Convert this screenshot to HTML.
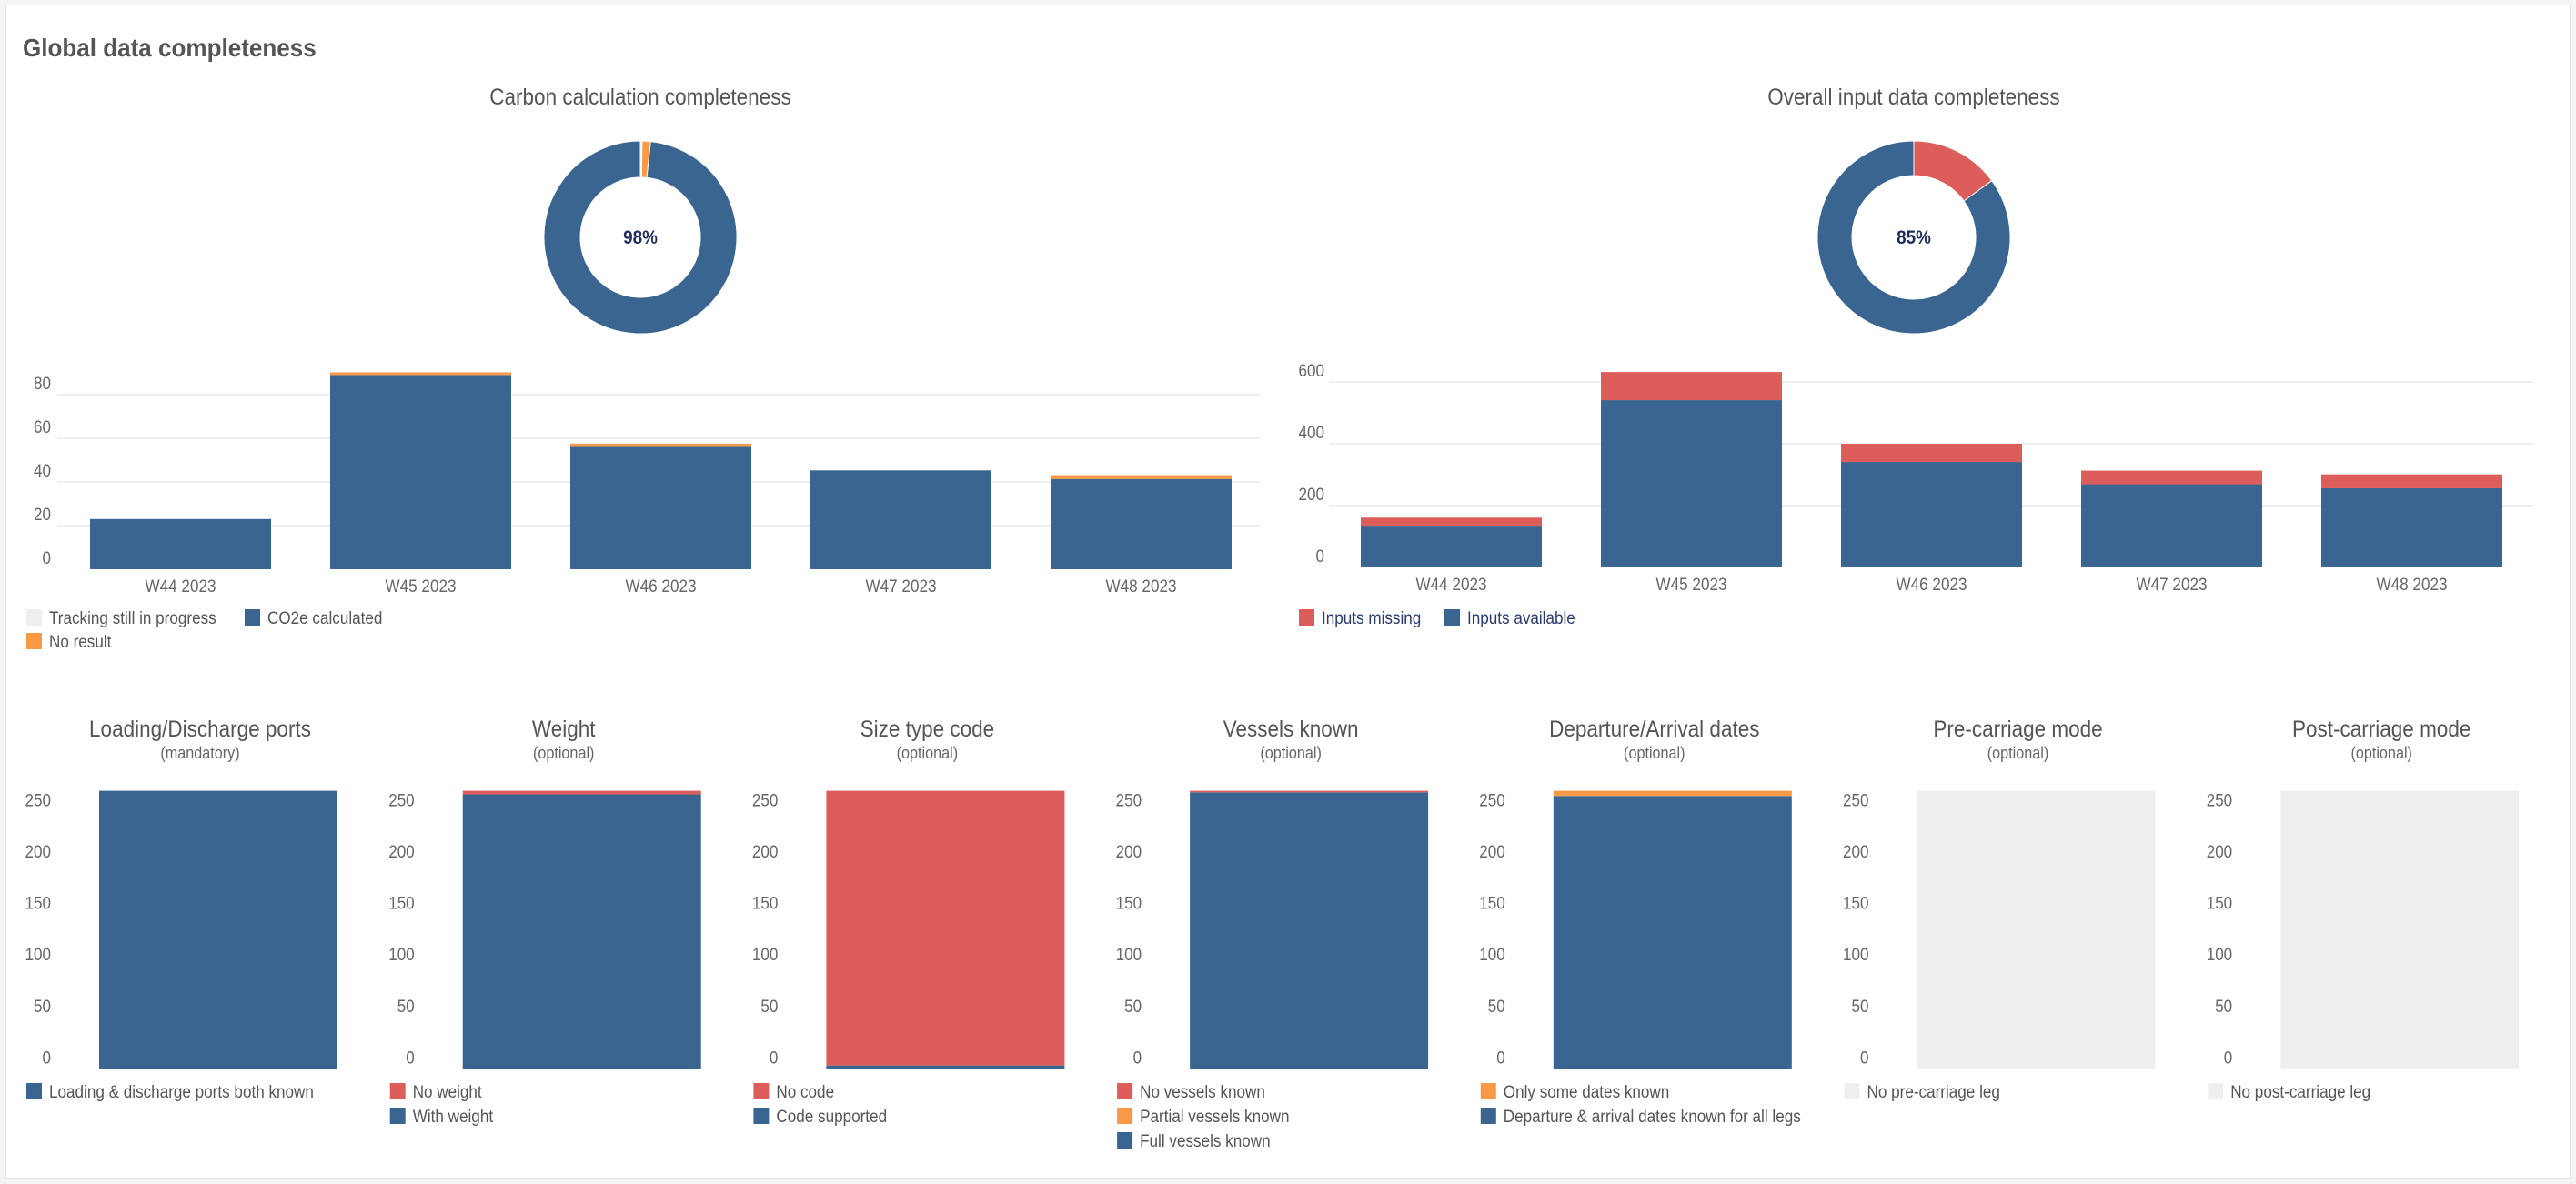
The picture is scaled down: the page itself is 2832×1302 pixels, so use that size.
<!DOCTYPE html>
<html><head><meta charset="utf-8">
<style>
html,body{margin:0;padding:0;background:#f4f3f6;}
body{width:2832px;height:1302px;overflow:hidden;position:relative;}
#panel{position:absolute;left:6px;top:5px;width:2818px;height:1289px;background:#fff;border:1px solid #e6e4e8;}
svg{position:absolute;left:0;top:0;}
text{font-family:"Liberation Sans Narrow","Liberation Sans",sans-serif;}
</style></head>
<body>
<div id="panel"></div>
<svg id="chart" width="2832" height="1302">
<text id="main-title" x="25" y="62" font-size="28" font-weight="bold" fill="#555">Global data completeness</text>
</svg>
<script>
// ---- Top-left data ----
const weeks = ["W44 2023","W45 2023","W46 2023","W47 2023","W48 2023"];
const co2Calculated = [23, 89, 56.5, 45.3, 41.3];
const co2NoResult = [0, 1.2, 1, 0, 1.8];
const co2Tracking = [0, 0.2, 0.5, 0, 0];
const carbonTicks = [0, 20, 40, 60, 80];
const carbonDonut = [0.3, 1.4, 98.3];
const carbonPct = "98%";
// ---- Top-right data ----
const inputsAvailable = [135, 541, 341, 269, 256];
const inputsMissing = [26, 91, 59, 44, 45];
const inputTicks = [0, 200, 400, 600];
const inputDonut = [15, 85];
const inputPct = "85%";
// ---- Bottom data ----
const panelTitles = ["Loading/Discharge ports","Weight","Size type code","Vessels known","Departure/Arrival dates","Pre-carriage mode","Post-carriage mode"];
const panelSubs = ["(mandatory)","(optional)","(optional)","(optional)","(optional)","(optional)","(optional)"];
const bottomTicks = [0, 50, 100, 150, 200, 250];
const panelBlue = [270, 266.5, 3.4, 268.5, 265, 0, 0];
const panelOrange = [0, 0, 0, 0, 5, 0, 0];
const panelRed = [0, 3.5, 266.6, 1.5, 0, 0, 0];
const panelGrey = [0, 0, 0, 0, 0, 270, 270];
const panelLegends = [
  [["#3a6591","Loading & discharge ports both known"]],
  [["#dd5d5a","No weight"],["#3a6591","With weight"]],
  [["#dd5d5a","No code"],["#3a6591","Code supported"]],
  [["#dd5d5a","No vessels known"],["#f89a45","Partial vessels known"],["#3a6591","Full vessels known"]],
  [["#f89a45","Only some dates known"],["#3a6591","Departure & arrival dates known for all legs"]],
  [["#f0eef1","No pre-carriage leg"]],
  [["#f0eef1","No post-carriage leg"]]
];

const BLUE="#3a6591", RED="#dd5d5a", ORANGE="#f89a45", GREY="#f0eef1";
const svg = document.getElementById('chart');
const NS = "http://www.w3.org/2000/svg";
function mk(tag, attrs, parent){
  const e = document.createElementNS(NS, tag);
  for (const k in attrs) e.setAttribute(k, attrs[k]);
  (parent||svg).appendChild(e);
  return e;
}
function txt(x,y,s,size,fill,anchor,weight){
  const t = mk('text',{x:x,y:y,'font-size':size,fill:fill,'text-anchor':anchor||'start','font-weight':weight||'normal'});
  t.textContent = s;
  return t;
}

function donut(cx, cy, ro, ri, vals, cols, label){
  const tot = vals.reduce((a,b)=>a+b,0);
  let a0 = 0;
  vals.forEach((v,i)=>{
    const a1 = a0 + v/tot*Math.PI*2;
    const p = (r,a)=>[cx+r*Math.sin(a), cy-r*Math.cos(a)];
    const large = (a1-a0)>Math.PI?1:0;
    const [x1,y1]=p(ro,a0),[x2,y2]=p(ro,a1),[x3,y3]=p(ri,a1),[x4,y4]=p(ri,a0);
    const path = mk('path',{d:`M${x1},${y1}A${ro},${ro} 0 ${large} 1 ${x2},${y2}L${x3},${y3}A${ri},${ri} 0 ${large} 0 ${x4},${y4}Z`,fill:cols[i],stroke:'#fff','stroke-width':1});
    
    
    a0 = a1;
  });
  const t = txt(cx, cy+7, label, 21, '#1f2d5c', 'middle', 'bold');
  
  
}

function weekChart(opts){
  const {x0, gx0, gx1, base, pxPer, ticks, stacks, labelX} = opts;
  const y = v => base - v*pxPer;
  ticks.forEach(tv=>{
    if (tv>0){
      const g = mk('line',{x1:gx0,x2:gx1,y1:y(tv),y2:y(tv),stroke:'#efeff1','stroke-width':2});
      
      
    }
    const t = txt(labelX, y(tv)-6, String(tv), 19, '#666', 'end');
    
    
  });
  weeks.forEach((w,i)=>{
    const bx = x0 + i*264;
    let acc = 0;
    stacks.forEach(s=>{
      const v = s.vals[i];
      if (v>0){
        const r = mk('rect',{x:bx,y:y(acc+v),width:199,height:v*pxPer,fill:s.color});
        
        
      }
      acc += v;
    });
    const t = txt(bx+99.5, base+25, w, 19, '#666', 'middle');
    
    
  });
}

// Top-left
let t1 = txt(704, 115, "Carbon calculation completeness", 25, '#555', 'middle');


donut(704, 261, 106, 66, carbonDonut, [GREY, ORANGE, BLUE], carbonPct);
weekChart({x0:99, gx0:63, gx1:1385, base:626, pxPer:2.4, ticks:carbonTicks, labelX:56,
  stacks:[{vals:co2Calculated,color:BLUE},{vals:co2NoResult,color:ORANGE},{vals:co2Tracking,color:GREY}]});

// Top-right
let t2 = txt(2104, 115, "Overall input data completeness", 25, '#555', 'middle');


donut(2104, 261, 106, 68, inputDonut, [RED, BLUE], inputPct);
weekChart({x0:1496, gx0:1461, gx1:2785, base:624, pxPer:0.34, ticks:inputTicks, labelX:1456,
  stacks:[{vals:inputsAvailable,color:BLUE},{vals:inputsMissing,color:RED}]});

// Legends
function legendItem(x, y, color, label, textColor){
  const r = mk('rect',{x:x,y:y-9,width:17,height:18,fill:color});
  
  
  const t = txt(x+25, y+7, label, 19, textColor||'#555');
  
  
}
legendItem(29, 679, GREY, "Tracking still in progress");
legendItem(269, 679, BLUE, "CO2e calculated");
legendItem(29, 705, ORANGE, "No result");
legendItem(1428, 679, RED, "Inputs missing", '#2a3a70');
legendItem(1588, 679, BLUE, "Inputs available", '#2a3a70');

// Bottom panels
const bBase = 1175.5, bPx = 1.133;
panelTitles.forEach((title,i)=>{
  const off = i*399.7;
  const tt = txt(220+off, 810, title, 25, '#555', 'middle');
  
  
  const st = txt(220+off, 834, panelSubs[i], 18, '#666', 'middle');
  
  
  bottomTicks.forEach(tv=>{
    const yl = txt(56+off, bBase - tv*bPx - 6, String(tv), 19, '#666', 'end');
    
    
  });
  let acc = 0;
  [[panelBlue,BLUE],[panelOrange,ORANGE],[panelRed,RED],[panelGrey,GREY]].forEach(([arr,col])=>{
    const v = arr[i];
    if (v>0){
      const r = mk('rect',{x:109+off,y:bBase-(acc+v)*bPx,width:262,height:v*bPx,fill:col});
      
      
    }
    acc += v;
  });
  panelLegends[i].forEach((lg,j)=>{
    legendItem(29+off, 1200 + j*27, lg[0], lg[1]);
  });
});

// condense text to mimic narrow font
svg.querySelectorAll('text').forEach(t=>{
  const w = t.getComputedTextLength();
  const f = t.id === 'main-title' ? 0.93 : 0.9;
  if (w>0){
    t.setAttribute('textLength', (w*f).toFixed(1));
    t.setAttribute('lengthAdjust', 'spacingAndGlyphs');
  }
});
</script>
</body></html>
